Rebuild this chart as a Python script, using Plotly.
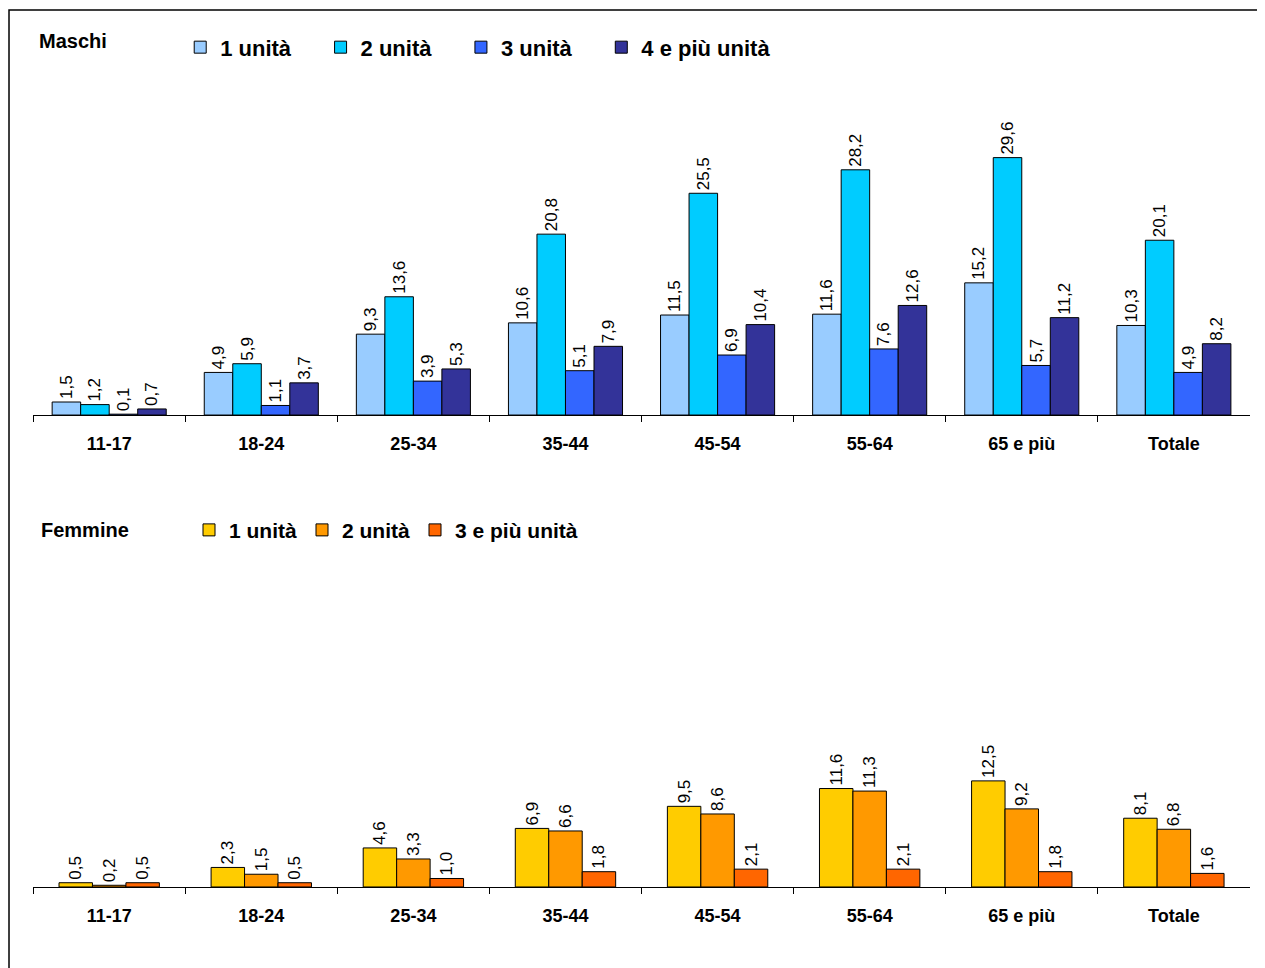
import plotly.graph_objects as go
from plotly.subplots import make_subplots

categories = ["11-17", "18-24", "25-34", "35-44", "45-54", "55-64", "65 e più", "Totale"]

maschi_names = ["1 unità", "2 unità", "3 unità", "4 e più unità"]
maschi_1 = [1.5, 4.9, 9.3, 10.6, 11.5, 11.6, 15.2, 10.3]
maschi_2 = [1.2, 5.9, 13.6, 20.8, 25.5, 28.2, 29.6, 20.1]
maschi_3 = [0.1, 1.1, 3.9, 5.1, 6.9, 7.6, 5.7, 4.9]
maschi_4 = [0.7, 3.7, 5.3, 7.9, 10.4, 12.6, 11.2, 8.2]

femmine_names = ["1 unità", "2 unità", "3 e più unità"]
femmine_1 = [0.5, 2.3, 4.6, 6.9, 9.5, 11.6, 12.5, 8.1]
femmine_2 = [0.2, 1.5, 3.3, 6.6, 8.6, 11.3, 9.2, 6.8]
femmine_3 = [0.5, 0.5, 1.0, 1.8, 2.1, 2.1, 1.8, 1.6]

maschi_colors = ["#99CCFF", "#00CCFF", "#3366FF", "#333399"]
femmine_colors = ["#FFCC00", "#FF9900", "#FF6600"]

FONT = "Arial, Liberation Sans, sans-serif"
PAD = "\u00a0" * 4  # extra room between legend entries

fig = make_subplots(rows=2, cols=1)


def fmt(v):
    return f"{v:.1f}".replace(".", ",")


for name, vals, col in zip(maschi_names, [maschi_1, maschi_2, maschi_3, maschi_4], maschi_colors):
    fig.add_trace(go.Bar(x=categories, y=vals, name=name + PAD,
                         marker=dict(color=col, line=dict(color="black", width=1)),
                         text=[fmt(v) for v in vals], textposition="outside", textangle=-90,
                         textfont=dict(size=17, color="black", family=FONT), cliponaxis=False,
                         legend="legend"), row=1, col=1)

# female bars are wider than the male ones
fw = 0.22
for i, (name, vals, col) in enumerate(zip(femmine_names, [femmine_1, femmine_2, femmine_3], femmine_colors)):
    fig.add_trace(go.Bar(x=categories, y=vals, name=name, marker=dict(color=col, line=dict(color="black", width=1)),
                         width=fw, offset=-1.5 * fw + i * fw,
                         text=[fmt(v) for v in vals], textposition="outside", textangle=-90,
                         textfont=dict(size=17, color="black", family=FONT), cliponaxis=False,
                         legend="legend2"), row=2, col=1)

xcommon = dict(showgrid=False, showline=True, linecolor="black", linewidth=1, ticks="outside",
               tickson="boundaries", ticklen=6, tickcolor="black", ticklabelstandoff=12,
               tickfont=dict(size=18, family=FONT, color="black", weight="bold"))
fig.update_xaxes(**xcommon)
fig.update_xaxes(domain=[0.02, 0.988], row=1, col=1)
fig.update_xaxes(domain=[0.02, 0.988], row=2, col=1)
fig.update_yaxes(visible=False, range=[0, 34])
fig.update_yaxes(domain=[0.576, 0.884], row=1, col=1)
fig.update_yaxes(domain=[0.0844, 0.385], row=2, col=1)

fig.update_layout(
    width=1257, height=960, margin=dict(l=0, r=0, t=0, b=0),
    plot_bgcolor="white", paper_bgcolor="white",
    barmode="group", bargap=0.25,
    uniformtext=dict(minsize=17, mode="show"),
    font=dict(family=FONT, color="black"),
    legend=dict(orientation="h", x=0.137, y=0.959, xanchor="left", yanchor="middle",
                bgcolor="rgba(0,0,0,0)",
                font=dict(size=22, family=FONT, weight="bold"), itemwidth=30),
    legend2=dict(orientation="h", x=0.144, y=0.456, xanchor="left", yanchor="middle",
                 bgcolor="rgba(0,0,0,0)",
                 font=dict(size=21, family=FONT, weight="bold"), itemwidth=30),
    annotations=[
        dict(text="<b>Maschi</b>", x=0.023, y=0.966, xref="paper", yref="paper", xanchor="left",
             yanchor="middle", showarrow=False, font=dict(size=20, family=FONT)),
        dict(text="<b>Femmine</b>", x=0.0247, y=0.456, xref="paper", yref="paper", xanchor="left",
             yanchor="middle", showarrow=False, font=dict(size=20, family=FONT)),
    ],
    shapes=[dict(type="rect", xref="paper", yref="paper", x0=0.0008, x1=0.9976, y0=-0.02, y1=0.998,
                 line=dict(color="black", width=1.5))],
)

fig.write_html("out.html")
